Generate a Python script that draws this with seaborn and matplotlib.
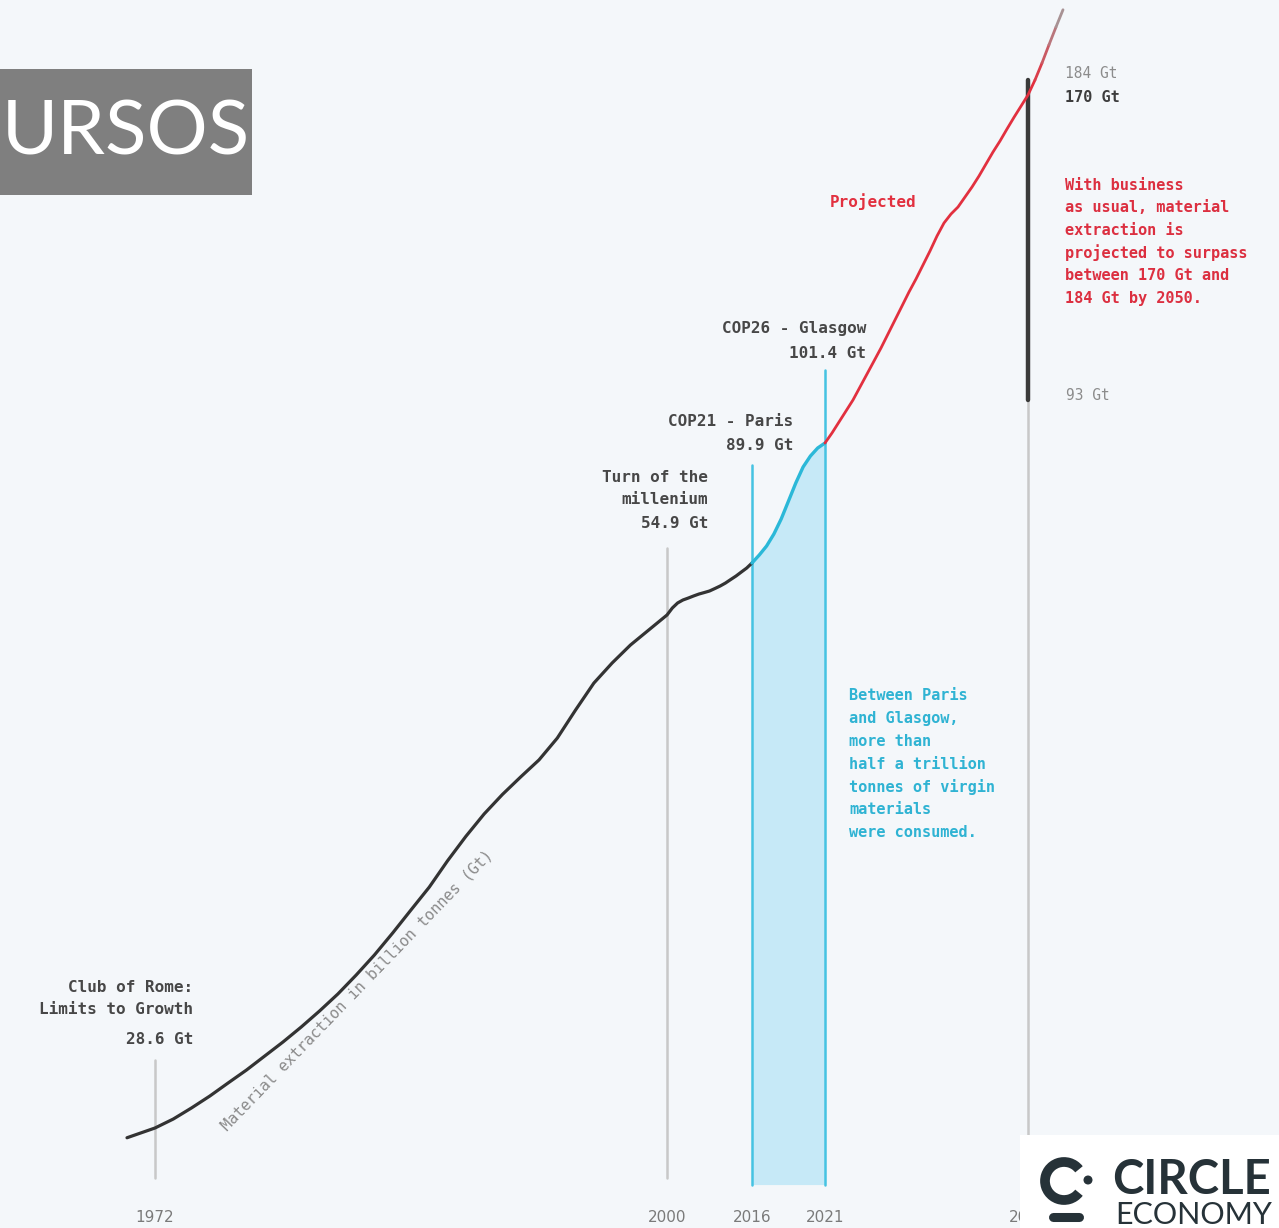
import numpy as np
import pandas as pd
import matplotlib
matplotlib.use("Agg")
import matplotlib.pyplot as plt
from matplotlib.patches import Rectangle, Arc, Circle
import seaborn as sns

# ---------------- data (years, billion tonnes) ----------------
hist_years = [1970, 1972, 1973, 1974, 1975, 1976, 1977, 1978, 1979, 1980, 1981,
              1982, 1983, 1984, 1985, 1986, 1987, 1988, 1989, 1990, 1991, 1992,
              1993, 1994, 1995, 1996, 1997, 1998, 1999, 2000, 2001, 2002, 2003,
              2004, 2005, 2006, 2007, 2008, 2009, 2010, 2011, 2012, 2013, 2014,
              2015, 2016]
hist_gt = [28.1, 28.6, 29.06, 29.63, 30.24, 30.91, 31.57, 32.29, 33.01, 33.78,
           34.60, 35.47, 36.44, 37.47, 38.60, 39.78, 40.95, 42.30, 43.55, 44.70,
           45.70, 46.60, 47.47, 48.59, 50.03, 51.41, 52.44, 53.36, 54.13, 54.9,
           59.6, 63.0, 65.0, 66.3, 67.7, 69.0, 70.0, 71.05, 72.7, 74.4, 76.4,
           78.8, 81.15, 83.85, 86.5, 89.9]
paris_years = [2016, 2016.5, 2017, 2017.5, 2018, 2018.5, 2019, 2019.5, 2020,
               2020.5, 2021]
paris_gt = [89.9, 90.67, 91.53, 92.68, 94.12, 95.84, 97.57, 99.10, 100.15,
            100.92, 101.4]
proj_years = [2021, 2022, 2023, 2024, 2025, 2026, 2027, 2028, 2029, 2030, 2031,
              2032, 2033, 2034, 2035, 2036, 2037, 2038, 2039, 2040, 2041, 2042,
              2043, 2044, 2045, 2046, 2047, 2048, 2049, 2050, 2051]
proj_gt = [101.4, 103.37, 105.54, 107.71, 109.88, 112.44, 115.0, 117.56, 120.13,
           122.89, 125.65, 128.4, 131.17, 133.73, 136.49, 139.25, 142.2, 144.77,
           146.54, 147.92, 149.89, 151.86, 154.03, 156.4, 158.76, 160.93, 163.3,
           165.6, 167.8, 170.0, 172.96]
tip_years = [2051, 2052, 2053, 2054, 2055]
tip_gt = [172.96, 176.3, 179.9, 183.4, 186.8]

milestone_years = [1972, 2000, 2016, 2021, 2050]
milestone_labels = ["1972", "2000", "2016", "2021", "2050"]
floor_gt = 25.7

# illustrative (non-linear) axis scales, as in the original graphic
x_anchor_year = [1900, 1970, 1972, 2000, 2016, 2021, 2050, 2200]
x_anchor_pos = [-853, 127, 155, 667, 752, 825, 1028, 2078]
y_anchor_gt = [0, 28.6, 54.9, 89.9, 101.4, 170, 400]
y_anchor_pos = [-457.9, 100, 613, 665, 785, 1133, 2300]

W, H = 1279, 1228

def fwd_x(v):
    return np.interp(v, x_anchor_year, x_anchor_pos)
def inv_x(v):
    return np.interp(v, x_anchor_pos, x_anchor_year)
def fwd_y(v):
    return np.interp(v, y_anchor_gt, y_anchor_pos)
def inv_y(v):
    return np.interp(v, y_anchor_pos, y_anchor_gt)

# ---------------- style ----------------
sns.set_theme(style="white")
BG = "#f4f7fa"
plt.rcParams["font.family"] = ["DejaVu Sans"]
MONO = ["DejaVu Sans Mono", "DejaVu Sans"]

fig = plt.figure(figsize=(W / 100, H / 100), dpi=100, facecolor=BG)
ax = fig.add_axes([0, 0, 1, 1], facecolor=BG)

df_hist = pd.DataFrame({"year": hist_years, "gt": hist_gt})
df_paris = pd.DataFrame({"year": paris_years, "gt": paris_gt})
df_proj = pd.DataFrame({"year": proj_years, "gt": proj_gt})

CYAN = "#2bb8d8"
RED = "#e2303f"
GUIDE = "#c8c8c8"

# shaded Paris-Glasgow area
ax.fill_between(paris_years, paris_gt, floor_gt, color="#c6e9f7", lw=0, zorder=1)

# guide lines
ax.axvline(1972, ymin=1 - 1178 / H, ymax=1 - 1060 / H, color=GUIDE, lw=1.8, zorder=2)
ax.axvline(2000, ymin=1 - 1178 / H, ymax=1 - 548 / H, color=GUIDE, lw=1.8, zorder=2)
ax.axvline(2016, ymin=1 - 1185 / H, ymax=1 - 465 / H, color="#45c3e2", lw=1.8, zorder=2)
ax.axvline(2021, ymin=1 - 1185 / H, ymax=1 - 370 / H, color="#45c3e2", lw=1.8, zorder=2)
ax.axvline(2050, ymin=1 - 1135 / H, ymax=1 - 400 / H, color=GUIDE, lw=1.8, zorder=2)
ax.axvline(2050, ymin=1 - 400 / H, ymax=1 - 80 / H, color="#3a3a3a", lw=3.2, zorder=2)

sns.lineplot(data=df_hist, x="year", y="gt", ax=ax, color="#333333", lw=2.3,
             zorder=4, estimator=None, sort=False)
sns.lineplot(data=df_paris, x="year", y="gt", ax=ax, color=CYAN, lw=2.4,
             zorder=4, estimator=None, sort=False)
sns.lineplot(data=df_proj, x="year", y="gt", ax=ax, color=RED, lw=2.0,
             zorder=4, estimator=None, sort=False)
for line in ax.lines:
    line.set_solid_joinstyle("round")
    line.set_solid_capstyle("round")
# fading tip (red -> grey)
c0 = np.array(matplotlib.colors.to_rgb(RED))
c1 = np.array(matplotlib.colors.to_rgb("#a0a0a0"))
for i in range(len(tip_years) - 1):
    t = (i + 0.5) / (len(tip_years) - 1)
    ax.plot(tip_years[i:i + 2], tip_gt[i:i + 2], color=tuple(c0 * (1 - t) + c1 * t),
            lw=2.0, zorder=4, solid_capstyle="round")

ax.set_xscale("function", functions=(fwd_x, inv_x))
ax.set_yscale("function", functions=(fwd_y, inv_y))
ax.set_xlim(inv_x(0), inv_x(W))
ax.set_ylim(inv_y(0), inv_y(H))
ax.set_xticks(milestone_years)
ax.set_xticklabels(milestone_labels)
ax.set_yticks([])
ax.minorticks_off()
ax.tick_params(axis="x", length=0, pad=-13, labelsize=11, labelcolor="#7a7a7a")
ax.set_xlabel("")
ax.set_ylabel("")
for s in ax.spines.values():
    s.set_visible(False)

# ---------------- annotations ----------------
def put(px, py, s, ha="right", color="#474747", size=11.5, weight="bold", **kw):
    fig.text(px / W, 1 - py / H, s, ha=ha, va="center", color=color,
             fontsize=size, fontweight=weight, family=MONO, **kw)

put(193, 987, "Club of Rome:")
put(193, 1010, "Limits to Growth")
put(193, 1039, "28.6 Gt")
put(708, 477, "Turn of the")
put(708, 500, "millenium")
put(708, 524, "54.9 Gt")
put(793, 421, "COP21 - Paris")
put(793, 445, "89.9 Gt")
put(866, 328, "COP26 - Glasgow")
put(866, 354, "101.4 Gt")
put(916, 202, "Projected", color=RED)

put(1065, 73, "184 Gt", ha="left", color="#8c8c8c", size=10.5, weight="normal")
put(1065, 98, "170 Gt", ha="left", color="#3d3d3d", size=11)
put(1066, 396, "93 Gt", ha="left", color="#8c8c8c", size=10.5, weight="normal")

red_lines = ["With business", "as usual, material", "extraction is",
             "projected to surpass", "between 170 Gt and", "184 Gt by 2050."]
for i, s in enumerate(red_lines):
    put(1065, 185 + 22.6 * i, s, ha="left", color="#dc2f40", size=11)

cyan_lines = ["Between Paris", "and Glasgow,", "more than", "half a trillion",
              "tonnes of virgin", "materials", "were consumed."]
for i, s in enumerate(cyan_lines):
    put(849, 696 + 22.7 * i, s, ha="left", color="#2fb3d3", size=11)

fig.text(357 / W, 1 - 990 / H, "Material extraction in billion tonnes (Gt)",
         rotation=46, ha="center", va="center", color="#8a8a8a", fontsize=11,
         family=MONO, rotation_mode="anchor")

# grey title box (cropped)
fig.add_artist(Rectangle((0, 1 - 195 / H), 252 / W, 126 / H, transform=fig.transFigure,
                         facecolor="#7f7f7f", edgecolor="none", zorder=5))
fig.text(250 / W, 1 - 133 / H, "URSOS", ha="right", va="center", color="white",
         fontsize=55, family=["Lato", "DejaVu Sans"], zorder=6)

# logo
lax = fig.add_axes([1020 / W, 0, (W - 1020) / W, 93 / H], facecolor="white", zorder=10)
lax.set_xlim(0, W - 1020)
lax.set_ylim(0, 93)
lax.set_xticks([])
lax.set_yticks([])
for s in lax.spines.values():
    s.set_visible(False)
LOGO = "#263238"
lax.add_patch(Arc((44, 47), 38, 38, theta1=38, theta2=322, lw=7, color=LOGO))
lax.add_patch(Circle((68, 48), 3.8, color=LOGO))
lax.plot([33, 59], [11, 11], color=LOGO, lw=6.5, solid_capstyle="round")
lax.text(92, 34, "CIRCLE", ha="left", va="baseline", fontsize=34, fontweight="bold",
         color=LOGO, family=["Lato", "DejaVu Sans"])
lax.text(95, 4, "ECONOMY", ha="left", va="baseline", fontsize=22,
         color=LOGO, family=["Lato", "DejaVu Sans"])

fig.savefig("out.png", dpi=100, facecolor=BG)
